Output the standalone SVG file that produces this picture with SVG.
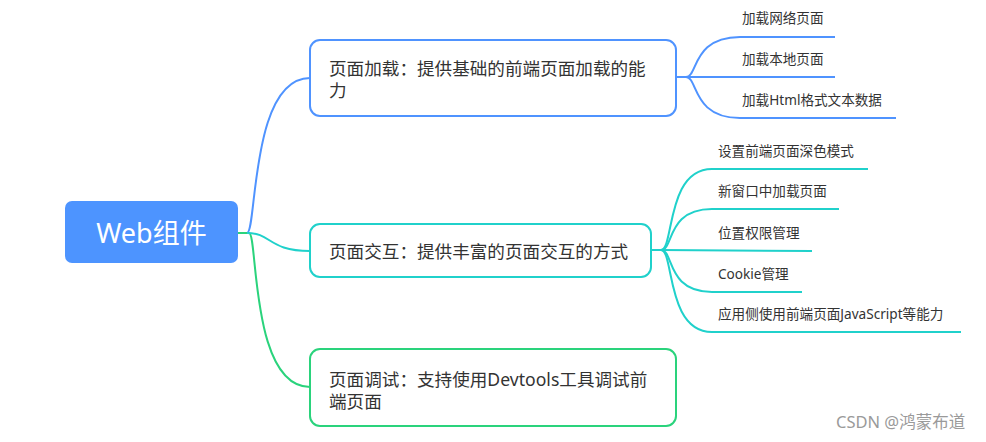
<svg xmlns="http://www.w3.org/2000/svg" width="986" height="442" viewBox="0 0 986 442">
<style>
text{font-family:"Noto Sans","Noto Sans CJK SC",sans-serif;fill:#333}
.box{fill:#fff;stroke-width:2}
.nt{font-size:17.6px}
.ct{font-size:13.6px}
.c{fill:none;stroke-width:2}
.b{stroke:#4f93ff}.y{stroke:#20d1cb}.g{stroke:#2ad37c}
</style>
<rect width="986" height="442" fill="#fff"/>
<g id="connectors">
<path class="c g" d="M238,233 L249,233 C258,233 250,387 310,387"/>
<path class="c b" d="M247,233 C257,233 250,78 310,78"/>
<path class="c y" d="M247,233 C272,233 268,251 310,251"/>
<path class="c b" d="M676,77 L686,77 C698,77 692,37 740,37 L835,37"/>
<path class="c b" d="M686,77 L835,77"/>
<path class="c b" d="M686,77 C698,77 692,118 740,118 L896,118"/>
<path class="c y" d="M651,250 L661,250 C674,250 666,169 712,169 L868,169"/>
<path class="c y" d="M661,250 C674,250 666,209 712,209 L839,209"/>
<path class="c y" d="M661,250 L812,251"/>
<path class="c y" d="M661,250 C674,250 666,292 712,292 L802,292"/>
<path class="c y" d="M661,250 C674,250 666,332 712,332 L961,332"/>
</g>
<g id="root">
<rect x="65" y="201" width="173" height="62" rx="7" fill="#4d94ff"/>
<text x="151.5" y="243" font-size="27" text-anchor="middle" style="fill:#fff">Web组件</text>
</g>
<g id="n1">
<rect class="box b" x="310" y="40" width="366" height="76" rx="10"/>
<text class="nt" x="329" y="75">页面加载：提供基础的前端页面加载的能</text>
<text class="nt" x="329" y="97">力</text>
</g>
<g id="n2">
<rect class="box y" x="310" y="224" width="341" height="53" rx="10"/>
<text class="nt" x="329" y="258">页面交互：提供丰富的页面交互的方式</text>
</g>
<g id="n3">
<rect class="box g" x="310" y="349" width="366" height="77" rx="10"/>
<text class="nt" x="329" y="386">页面调试：支持使用Devtools工具调试前</text>
<text class="nt" x="329" y="408">端页面</text>
</g>
<g id="c11"><text class="ct" x="742" y="23">加载网络页面</text></g>
<g id="c12"><text class="ct" x="742" y="64">加载本地页面</text></g>
<g id="c13"><text class="ct" x="742" y="105">加载Html格式文本数据</text></g>
<g id="c21"><text class="ct" x="718" y="156">设置前端页面深色模式</text></g>
<g id="c22"><text class="ct" x="718" y="196">新窗口中加载页面</text></g>
<g id="c23"><text class="ct" x="718" y="238">位置权限管理</text></g>
<g id="c24"><text class="ct" x="718" y="279">Cookie管理</text></g>
<g id="c25"><text class="ct" x="718" y="319">应用侧使用前端页面JavaScript等能力</text></g>
<text x="836" y="428" font-size="16.5" style="fill:#9a9a9a">CSDN @鸿蒙布道</text>
</svg>
